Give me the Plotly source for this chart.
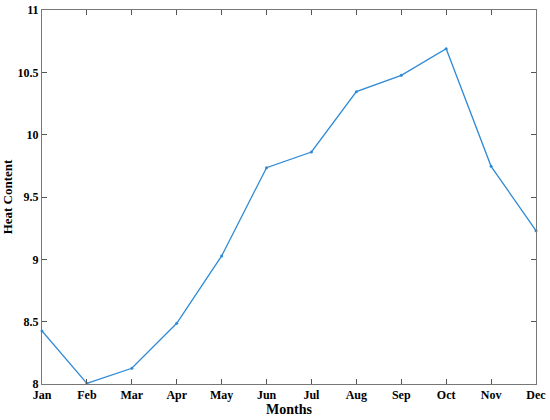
import plotly.graph_objs as go

months = ['Jan', 'Feb', 'Mar', 'Apr', 'May', 'Jun',
          'Jul', 'Aug', 'Sep', 'Oct', 'Nov', 'Dec']
heat_content = [8.425, 8.005, 8.126, 8.487, 9.027, 9.735,
                9.861, 10.345, 10.476, 10.69, 9.746, 9.23]
y_ticks = [8, 8.5, 9, 9.5, 10, 10.5, 11]

font_family = 'Liberation Serif, Times New Roman, serif'

fig = go.Figure()
fig.add_trace(go.Scatter(
    x=months,
    y=heat_content,
    mode='lines+markers',
    line=dict(color='#2f8ad6', width=1.3),
    marker=dict(size=3, color='#2f8ad6'),
    showlegend=False,
    cliponaxis=False
))

fig.update_layout(go.Layout(
    width=550,
    height=420,
    margin=dict(l=42, r=14, t=10, b=36),
    plot_bgcolor='white',
    paper_bgcolor='white',
    font=dict(family=font_family, color='black'),
))

fig.update_xaxes(
    range=[0, 11],
    tickvals=list(range(len(months))),
    ticktext=['<b>%s</b>' % m for m in months],
    ticks='inside', ticklen=5, tickcolor='#555',
    showline=True, linecolor='#777', linewidth=1, mirror='ticks',
    showgrid=False, zeroline=False, automargin=False,
    tickfont=dict(size=12, family=font_family),
    title=dict(text='<b>Months</b>', font=dict(size=14), standoff=0),
)
fig.update_yaxes(
    range=[8, 11],
    tickvals=y_ticks,
    ticktext=['<b>%g</b>' % v for v in y_ticks],
    ticks='inside', ticklen=5, tickcolor='#555',
    showline=True, linecolor='#777', linewidth=1, mirror='ticks',
    showgrid=False, zeroline=False, automargin=False,
    tickfont=dict(size=12, family=font_family),
    title=dict(text='<b>Heat Content</b>', font=dict(size=13), standoff=6),
)

# drop the default page margin so the figure sits at the window corner
fig.write_html("out.html", config={'displayModeBar': False},
               post_script="document.body.style.margin='0';")
